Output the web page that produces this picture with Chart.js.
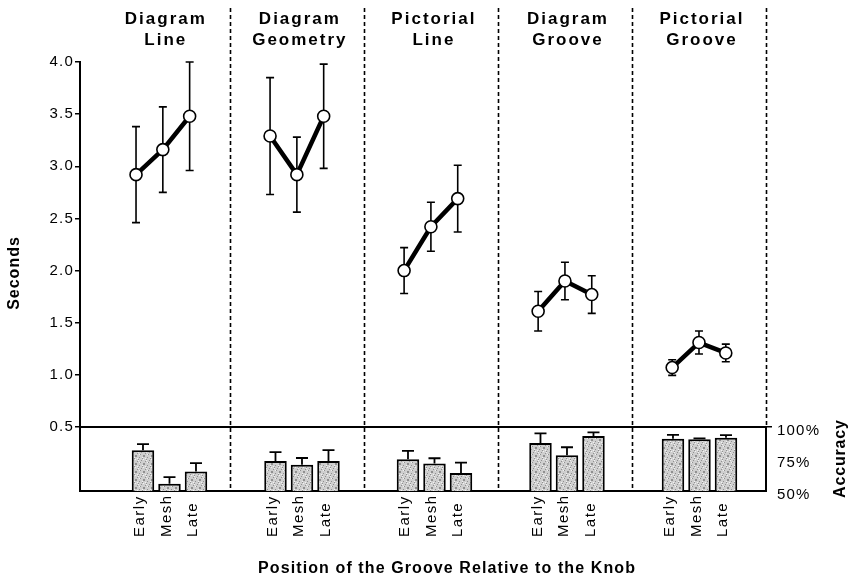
<!DOCTYPE html>
<html>
<head>
<meta charset="utf-8">
<title>Groove position: time and accuracy</title>
<script src="https://cdn.jsdelivr.net/npm/chart.js@4/dist/chart.umd.min.js"></script>
<style>
  html, body { margin: 0; padding: 0; background: #fff; }
  canvas { display: block; }
</style>
</head>
<body>
<canvas id="chart" width="857" height="579"></canvas>
<script>
// ---- data -------------------------------------------------------------
const groupTitles = [
  ['Diagram', 'Line'],
  ['Diagram', 'Geometry'],
  ['Pictorial', 'Line'],
  ['Diagram', 'Groove'],
  ['Pictorial', 'Groove']
];
const positions = ['Early', 'Mesh', 'Late'];

// mean response time (s) and its error, per group: Early, Mesh, Late
const seconds = [
  [2.92, 3.16, 3.48],
  [3.29, 2.92, 3.48],
  [2.00, 2.42, 2.69],
  [1.61, 1.90, 1.77],
  [1.07, 1.31, 1.21]
];
const secondsErr = [
  [0.46, 0.41, 0.52],
  [0.56, 0.36, 0.50],
  [0.22, 0.235, 0.32],
  [0.19, 0.18, 0.18],
  [0.075, 0.11, 0.085]
];

// accuracy (%) and its error, per group: Early, Mesh, Late
const accuracy = [
  [81.9, 55.7, 65.3],
  [73.5, 70.6, 73.5],
  [74.8, 71.4, 64.0],
  [87.6, 77.9, 92.9],
  [90.8, 90.5, 91.6]
];
const accuracyErr = [
  [4.7, 5.2, 6.5],
  [6.8, 5.2, 8.4],
  [6.5, 4.2, 8.2],
  [7.4, 6.3, 2.9],
  [3.1, 0.6, 2.1]
];

const secondsTicks = [0.5, 1.0, 1.5, 2.0, 2.5, 3.0, 3.5, 4.0];
const accuracyTicks = [50, 75, 100];

// ---- helpers ----------------------------------------------------------
const FONT = '"Liberation Sans", Arial, Helvetica, sans-serif';
// each group occupies five slots on the x axis: gap, Early, Mesh, Late, gap
const slot = (g, i) => 5 * g + 1 + i;

// light stippled grey fill for the accuracy bars
function stipple() {
  const c = document.createElement('canvas');
  c.width = 8; c.height = 8;
  const p = c.getContext('2d');
  p.fillStyle = '#cfcfcf';
  p.fillRect(0, 0, 8, 8);
  for (let i = 0; i < 8; i++) {
    for (let j = 0; j < 8; j++) {
      if ((i * 3 + j * 5) % 7 === 0) { p.fillStyle = '#909090'; p.fillRect(i, j, 1, 1); }
      else if ((i * 5 + j * 3) % 11 === 0) { p.fillStyle = '#f2f2f2'; p.fillRect(i, j, 1, 1); }
    }
  }
  return document.getElementById('chart').getContext('2d').createPattern(c, 'repeat');
}

function spacedText(ctx, text, x, y, spacing, align) {
  ctx.letterSpacing = spacing + 'px';
  const w = ctx.measureText(text).width - spacing;
  let sx = x;
  if (align === 'center') sx = x - w / 2;
  else if (align === 'right') sx = x - w;
  ctx.textAlign = 'left';
  ctx.fillText(text, sx, y);
}

// ---- datasets ---------------------------------------------------------
const lineSets = groupTitles.map((t, g) => ({
  type: 'line',
  xAxisID: 'x',
  yAxisID: 'y',
  data: positions.map((p, i) => ({ x: slot(g, i), y: seconds[g][i] })),
  borderColor: '#000',
  borderWidth: 4.5,
  borderJoinStyle: 'round',
  borderCapStyle: 'round',
  pointRadius: 6,
  pointBackgroundColor: '#fff',
  pointBorderColor: '#000',
  pointBorderWidth: 1.6,
  fill: false,
  tension: 0
}));

const barSet = {
  type: 'bar',
  xAxisID: 'x2',
  yAxisID: 'acc',
  data: groupTitles.flatMap((t, g) => positions.map((p, i) => ({ x: slot(g, i), y: accuracy[g][i] }))),
  backgroundColor: stipple(),
  borderColor: '#000',
  borderWidth: 2,
  borderSkipped: false,
  grouped: false,
  categoryPercentage: 1,
  barPercentage: 0.86,
  maxBarThickness: 22.5
};

// ---- decorations: separators, panel lines, error bars, labels ---------
const decorations = {
  id: 'decorations',
  beforeDraw(chart) {
    chart.ctx.letterSpacing = '1.2px';
  },
  beforeDatasetsDraw(chart) {
    const { ctx, chartArea, scales: { x, y, acc } } = chart;
    ctx.save();
    ctx.letterSpacing = '0px';
    ctx.strokeStyle = '#000';

    // dashed group separators
    ctx.lineWidth = 1.6;
    ctx.setLineDash([4, 3]);
    groupTitles.forEach((t, g) => {
      const px = Math.round(x.getPixelForValue(5 * g + 4.5)) + 0.5;
      const last = g === groupTitles.length - 1;
      ctx.beginPath();
      ctx.moveTo(px, 8);
      ctx.lineTo(px, last ? y.getPixelForValue(0.5) : chartArea.bottom);
      ctx.stroke();
    });
    ctx.setLineDash([]);

    // line dividing the time panel from the accuracy panel
    const yDiv = y.getPixelForValue(0.5);
    ctx.lineWidth = 1.8;
    ctx.beginPath();
    ctx.moveTo(chartArea.left, yDiv);
    ctx.lineTo(chartArea.right, yDiv);
    ctx.stroke();

    // accuracy axis line (right side of lower panel)
    ctx.lineWidth = 2;
    ctx.beginPath();
    ctx.moveTo(chartArea.right, acc.getPixelForValue(100));
    ctx.lineTo(chartArea.right, acc.getPixelForValue(50));
    ctx.stroke();

    // error bars for response times (drawn under the markers)
    ctx.lineWidth = 1.6;
    seconds.forEach((row, g) => row.forEach((v, i) => {
      const px = x.getPixelForValue(slot(g, i));
      const top = y.getPixelForValue(v + secondsErr[g][i]);
      const bot = y.getPixelForValue(v - secondsErr[g][i]);
      ctx.beginPath();
      ctx.moveTo(px, top); ctx.lineTo(px, bot);
      ctx.moveTo(px - 4, top); ctx.lineTo(px + 4, top);
      ctx.moveTo(px - 4, bot); ctx.lineTo(px + 4, bot);
      ctx.stroke();
    }));
    ctx.restore();
  },
  afterDatasetsDraw(chart) {
    const { ctx, scales: { x2, acc } } = chart;
    ctx.save();
    ctx.strokeStyle = '#000';
    ctx.lineWidth = 1.8;
    accuracy.forEach((row, g) => row.forEach((v, i) => {
      const px = x2.getPixelForValue(slot(g, i));
      const base = acc.getPixelForValue(v);
      const top = acc.getPixelForValue(v + accuracyErr[g][i]);
      ctx.beginPath();
      ctx.moveTo(px, base); ctx.lineTo(px, top);
      ctx.moveTo(px - 6, top); ctx.lineTo(px + 6, top);
      ctx.stroke();
    }));
    ctx.restore();
  },
  afterDraw(chart) {
    const { ctx, scales: { x, x2 } } = chart;
    ctx.save();
    ctx.fillStyle = '#000';

    // group headings
    ctx.font = 'bold 17px ' + FONT;
    ctx.textBaseline = 'alphabetic';
    groupTitles.forEach((t, g) => {
      const cx = x.getPixelForValue(slot(g, 1)) + 2;
      spacedText(ctx, t[0], cx, 24, 2, 'center');
      spacedText(ctx, t[1], cx, 44.5, 2, 'center');
    });

    // rotated position labels under each bar
    ctx.font = '15px ' + FONT;
    ctx.textBaseline = 'middle';
    groupTitles.forEach((t, g) => positions.forEach((p, i) => {
      const px = x2.getPixelForValue(slot(g, i)) - 3;
      ctx.save();
      ctx.translate(px, 537);
      ctx.rotate(-Math.PI / 2);
      spacedText(ctx, p, 0, 0, 1.5, 'left');
      ctx.restore();
    }));

    // axis titles
    ctx.font = 'bold 16px ' + FONT;
    ctx.textBaseline = 'middle';
    ctx.save();
    ctx.translate(15, 273.5);
    ctx.rotate(-Math.PI / 2);
    spacedText(ctx, 'Seconds', 0, 0, 1, 'center');
    ctx.restore();

    ctx.save();
    ctx.translate(841, 459);
    ctx.rotate(-Math.PI / 2);
    spacedText(ctx, 'Accuracy', 0, 0, 0.85, 'center');
    ctx.restore();

    ctx.textBaseline = 'alphabetic';
    spacedText(ctx, 'Position of the Groove Relative to the Knob', 446.5, 573, 1.1, 'center');
    ctx.restore();
  }
};

// ---- chart ------------------------------------------------------------
new Chart(document.getElementById('chart'), {
  type: 'bar',
  data: { datasets: [...lineSets, barSet] },
  options: {
    responsive: false,
    devicePixelRatio: 1,
    animation: false,
    layout: { padding: { top: 62, left: 0, right: 0, bottom: 0 } },
    plugins: { legend: { display: false }, tooltip: { enabled: false } },
    scales: {
      x: {
        type: 'linear',
        position: 'bottom',
        offset: false,
        min: -1.09,
        max: 24.5,
        ticks: { display: false },
        grid: { display: false, offset: false },
        border: { display: true, color: '#000', width: 2 },
        afterFit: s => { s.height = 88; }
      },
      x2: {
        type: 'linear',
        position: 'bottom',
        display: false,
        offset: false,
        grid: { offset: false },
        min: -1.377,
        max: 24.51
      },
      y: {
        type: 'linear',
        position: 'left',
        min: -0.1137,
        max: 4.0,
        afterBuildTicks: s => { s.ticks = secondsTicks.map(v => ({ value: v })); },
        ticks: {
          callback: v => Number(v).toFixed(1),
          font: { family: FONT, size: 15 },
          color: '#000',
          padding: 1
        },
        grid: { drawOnChartArea: false, drawTicks: true, tickLength: 5, color: '#000', lineWidth: 1.5 },
        border: { display: true, color: '#000', width: 2 },
        afterFit: s => { s.width = 80; }
      },
      acc: {
        type: 'linear',
        position: 'right',
        min: 50,
        max: 385.2,
        afterBuildTicks: s => { s.ticks = accuracyTicks.map(v => ({ value: v })); },
        ticks: {
          callback: v => v + '%',
          font: { family: FONT, size: 15 },
          color: '#000',
          padding: 5,
          labelOffset: 4
        },
        grid: {
          drawOnChartArea: false,
          drawTicks: true,
          tickLength: 6,
          lineWidth: 1.5,
          color: c => (c.tick && c.tick.value === 100 ? '#000' : 'rgba(0,0,0,0)')
        },
        border: { display: false },
        afterFit: s => { s.width = 91; }
      }
    }
  },
  plugins: [decorations]
});
</script>
</body>
</html>
